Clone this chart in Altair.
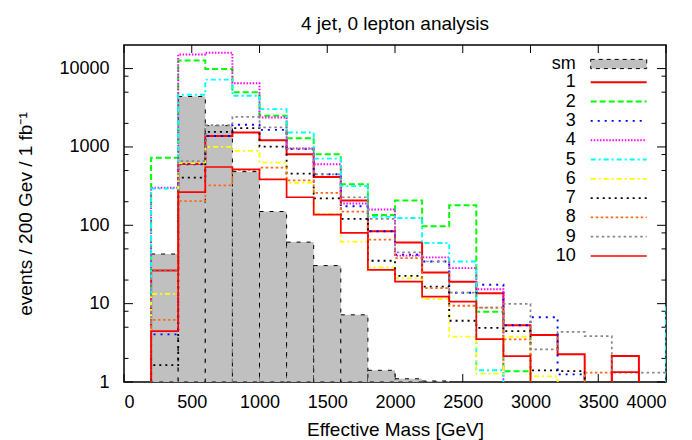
import altair as alt
import pandas as pd

# ---------------- data ----------------
edges = [200, 400, 600, 800, 1000, 1200, 1400, 1600, 1800, 2000, 2200,
         2400, 2600, 2800, 3000, 3200, 3400, 3600, 3800, 4000, 4200]

sm = [43, 4400, 1870, 484, 150, 61, 30.6, 7.2, 1.41, 1.1, 1.03]

names = ["1", "2", "3", "4", "5", "6", "7", "8", "9", "10"]
s1 = [26.5, 605, 1380, 1530, 1220, 805, 412, 207, 84, 60.5, 25, 19.1, 13.6, 5.3, 3.97, 2.26, 0, 2.14, 0]
s2 = [730, 12700, 9910, 4980, 2500, 1290, 805, 335, 135, 207, 97, 180, 7.9, 1.37, 0, 0, 0, 0, 0]
s3 = [4.05, 600, 1380, 1915, 1650, 940, 447, 175, 84, 42, 34.5, 13.8, 17.4, 5.3, 6.7, 1.25, 0, 0, 0]
s4 = [302, 15100, 15900, 6500, 2380, 954, 600, 190, 159, 41, 39, 28.4, 15.3, 0, 0, 0, 0, 0, 0]
s5 = [295, 4640, 7230, 4500, 3040, 1530, 710, 316, 128, 124, 59.5, 34.5, 1.41, 0, 0, 0, 0, 0, 0, 10]
s6 = [13.3, 618, 1000, 889, 632, 349, 140, 62, 29, 21.2, 11.4, 3.8, 1.28, 3.78, 1.18, 0, 0, 0, 0]
s7 = [1.64, 405, 1560, 1740, 1010, 456, 220, 121, 35.3, 22.6, 16.5, 6.05, 4.9, 4.47, 1.41, 1.38, 0, 0, 0]
s8 = [6.2, 203, 323, 510, 545, 374, 260, 149, 65.6, 38.2, 15.8, 9.4, 8.9, 3.5, 0, 0, 1.32, 0, 0]
s9 = [26, 661, 1900, 2425, 1775, 954, 447, 228, 121, 45, 34.5, 13.8, 8.9, 9.9, 2.6, 4.37, 3.85, 1.32, 1.32]
s10 = [4.47, 265, 555, 518, 385, 228, 137, 80, 27, 19.1, 12.3, 10.6, 3.53, 2.14, 0, 0, 0, 1.34, 0]
series_vals = [s1, s2, s3, s4, s5, s6, s7, s8, s9, s10]

colors = ["#ff0000", "#00ff00", "#0000ff", "#ff00ff", "#00ffff",
          "#ffff00", "#000000", "#ff6a1a", "#888888", "#ff0000"]
dashes = [[1, 0], [6, 3], [2, 5], [1.5, 1.6], [5, 3, 2, 3],
          [5, 3, 2, 3], [2, 4], [2.5, 2.5], [2.5, 3], [1, 0]]
widths = [2, 1.7, 1.7, 1.7, 1.7, 1.7, 1.7, 1.7, 1.7, 2]

x_ticks = [0, 500, 1000, 1500, 2000, 2500, 3000, 3500, 4000]
y_major = [1, 10, 100, 1000, 10000]
y_minor = [2, 5, 8, 20, 50, 80, 200, 500, 800, 2000, 5000, 8000]

# ---------------- tables ----------------
FLOOR = 0.3
rows = []
for name, vals in zip(names, series_vals):
    rows.append(dict(series=name, x=edges[0], y=FLOOR, k=0))
    for i, v in enumerate(vals):
        rows.append(dict(series=name, x=edges[i], y=v if v > 0 else FLOOR, k=i + 1))
    rows.append(dict(series=name, x=edges[len(vals)], y=FLOOR, k=len(vals) + 1))
lines_df = pd.DataFrame(rows)

sm_df = pd.DataFrame({"lo": edges[:len(sm)], "hi": edges[1:len(sm) + 1],
                      "v": sm, "label": ["sm"] * len(sm)})
xt_df = pd.DataFrame({"x": x_ticks})
ymaj_df = pd.DataFrame({"y": y_major})
ymin_df = pd.DataFrame({"y": y_minor})

W, H = 542, 337
FONT = "Liberation Sans"

xs = alt.Scale(domain=[0, 4000], nice=False, zero=False)
ys = alt.Scale(type="log", domain=[1, 20000], nice=False)
xaxis = alt.Axis(values=x_ticks, format="d", title="Effective Mass [GeV]", labelPadding=11,
                 titleY=47, titleBaseline="middle")
yaxis = alt.Axis(values=y_major, format="d", title="events / 200 Gev / 1 fb\u207b\u00b9",
                 labelPadding=15, titleX=-99, titleBaseline="middle", titleAngle=-90)

# ---------------- ticks (inward, like the original frame) ----------------
tick_style = dict(color="black", strokeWidth=1)
t_bottom = alt.Chart(xt_df).mark_rule(**tick_style).encode(
    x=alt.X("x:Q", scale=xs, axis=xaxis), y=alt.value(H), y2=alt.value(H - 8))
t_top = alt.Chart(xt_df).mark_rule(**tick_style).encode(
    x=alt.X("x:Q", scale=xs, axis=xaxis), y=alt.value(0), y2=alt.value(8))
t_left = alt.Chart(ymaj_df).mark_rule(**tick_style).encode(
    y=alt.Y("y:Q", scale=ys, axis=yaxis), x=alt.value(0), x2=alt.value(9))
t_right = alt.Chart(ymaj_df).mark_rule(**tick_style).encode(
    y=alt.Y("y:Q", scale=ys, axis=yaxis), x=alt.value(W), x2=alt.value(W - 9))
t_left_m = alt.Chart(ymin_df).mark_rule(**tick_style).encode(
    y=alt.Y("y:Q", scale=ys, axis=yaxis), x=alt.value(0), x2=alt.value(4.5))
t_right_m = alt.Chart(ymin_df).mark_rule(**tick_style).encode(
    y=alt.Y("y:Q", scale=ys, axis=yaxis), x=alt.value(W), x2=alt.value(W - 4.5))

NEG_OFF = alt.ExprRef(expr="-52")
LEG_FS = 18
LEG_X = 485.7

# ---------------- SM histogram ----------------
sm_legend = alt.Legend(orient="none", legendX=LEG_X, legendY=10, title=None,
                       direction="vertical", padding=0,
                       symbolType="M-7,-1.15L7,-1.15L7,1.15L-7,1.15Z",
                       symbolSize=64, symbolStrokeColor="black",
                       symbolDash=[4, 4], symbolStrokeWidth=1, symbolOpacity=1,
                       labelAlign="right", labelOffset=NEG_OFF, labelFontSize=LEG_FS,
                       labelFont=FONT, labelColor="black")
bars = alt.Chart(sm_df).mark_bar(stroke="black", strokeDash=[4, 6], strokeWidth=1,
                                 clip=True, opacity=1).encode(
    x=alt.X("lo:Q", scale=xs, axis=xaxis),
    x2="hi:Q",
    y=alt.Y("v:Q", scale=ys, axis=yaxis),
    y2=alt.datum(1),
    fill=alt.Fill("label:N", scale=alt.Scale(domain=["sm"], range=["#c0c0c0"]),
                  legend=sm_legend),
)

# ---------------- signal step lines ----------------
line_legend = alt.Legend(orient="none", legendX=LEG_X, legendY=28.3, title=None,
                         direction="vertical", padding=0,
                         symbolType="M-7,0L7,0", symbolSize=64, symbolStrokeWidth=2,
                         symbolFillColor="transparent",
                         labelAlign="right", labelOffset=NEG_OFF, labelFontSize=LEG_FS,
                         labelFont=FONT, labelColor="black", rowPadding=1.3)
lines = alt.Chart(lines_df).mark_line(interpolate="step-after", clip=True).encode(
    x=alt.X("x:Q", scale=xs, axis=xaxis),
    y=alt.Y("y:Q", scale=ys, axis=yaxis),
    stroke=alt.Stroke("series:N", scale=alt.Scale(domain=names, range=colors),
                      legend=line_legend),
    strokeDash=alt.StrokeDash("series:N", scale=alt.Scale(domain=names, range=dashes),
                              legend=line_legend),
    strokeWidth=alt.StrokeWidth("series:N", scale=alt.Scale(domain=names, range=widths),
                                legend=None),
    order=alt.Order("k:Q"),
)

chart = alt.layer(
    t_bottom, t_top, t_left, t_right, t_left_m, t_right_m, bars, lines
).properties(
    width=W, height=H,
    padding={"left": 124, "top": 45, "right": 26, "bottom": 58},
    autosize=alt.AutoSizeParams(type="none"),
    title=alt.TitleParams("4 jet, 0 lepton analysis", font=FONT, fontSize=19,
                          fontWeight="normal", anchor="middle", frame="group",
                          offset=11, color="black"),
).configure_view(
    stroke="black", strokeWidth=1.5
).configure_axis(
    labelFont=FONT, labelFontSize=18, titleFont=FONT, titleFontSize=19,
    titleFontWeight="normal", labelColor="black", titleColor="black",
    grid=False, domain=False, ticks=False, tickSize=0
)

chart.save("out.html", embed_options={"renderer": "svg", "actions": False})
